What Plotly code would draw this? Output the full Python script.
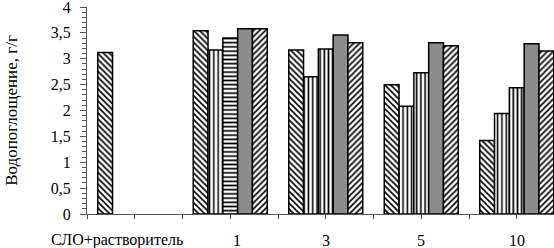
import plotly.graph_objects as go

categories = ["СЛО+растворитель", "1", "3", "5", "10"]
s1 = [3.12, 3.54, 3.17, 2.50, 1.42]
s2 = [None, 3.17, 2.65, 2.08, 1.94]
s3 = [None, 3.40, 3.19, 2.73, 2.44]
s4 = [None, 3.58, 3.46, 3.31, 3.29]
s5 = [None, 3.58, 3.31, 3.25, 3.15]
y_title = "Водопоглощение, г/г"

x = list(range(len(categories)))
label_xshift = [-18, 7, 0, 0, 0]
SERIF = "Liberation Serif"

series_styles = [
    dict(shape="\\", size=4.2, solidity=0.38),
    dict(shape="|", size=4.3, solidity=0.36),
    dict(shape=["-", "-", "|", "|", "|"], size=4.2, solidity=0.4),
    None,
    dict(shape="/", size=4.2, solidity=0.38),
]

fig = go.Figure()
for vals, st in zip([s1, s2, s3, s4, s5], series_styles):
    if st is None:
        marker = dict(color="#8c8c8c", line=dict(color="black", width=1.5))
    else:
        marker = dict(color="white", line=dict(color="black", width=1.5),
                      pattern=dict(shape=st["shape"], size=st["size"], solidity=st["solidity"],
                                   fgcolor="black", bgcolor="white", fillmode="replace"))
    fig.add_trace(go.Bar(x=x, y=vals, marker=marker, showlegend=False, hoverinfo="skip"))

for i, (xi, lab) in enumerate(zip(x, categories)):
    fig.add_annotation(x=xi, y=0, xref="x", yref="paper", text=lab, showarrow=False,
                       yanchor="middle", yshift=-26, xshift=label_xshift[i],
                       font=dict(family=SERIF, size=16, color="black"))

fig.update_layout(
    width=554, height=248,
    margin=dict(l=87, r=0, t=7, b=34, autoexpand=False),
    paper_bgcolor="white", plot_bgcolor="white",
    barmode="group", bargap=0.225, bargroupgap=0,
    separators=", ",
    font=dict(family=SERIF, size=16, color="black"),
)
fig.update_xaxes(range=[-0.5, 4.39], showline=True, linecolor="#555", linewidth=1,
                 tick0=0, dtick=0.5, ticks="outside", ticklen=4, tickcolor="#555",
                 showticklabels=False, showgrid=False, zeroline=False, automargin=False)
fig.update_yaxes(range=[0, 4], dtick=0.5, showline=True, linecolor="#555", linewidth=1,
                 ticks="outside", ticklen=6, tickcolor="#555",
                 minor=dict(dtick=0.1, ticks="outside", ticklen=4, tickcolor="#555"),
                 showgrid=False, zeroline=False, tickformat=".1~f", automargin=False,
                 ticklabelstandoff=6, ticklabeloverflow="allow",
                 title=dict(text=y_title, font=dict(family=SERIF, size=17), standoff=28))

fig.write_html("out.html", config={"displayModeBar": False},
               post_script="document.body.style.margin='0';document.body.style.overflow='hidden';")
